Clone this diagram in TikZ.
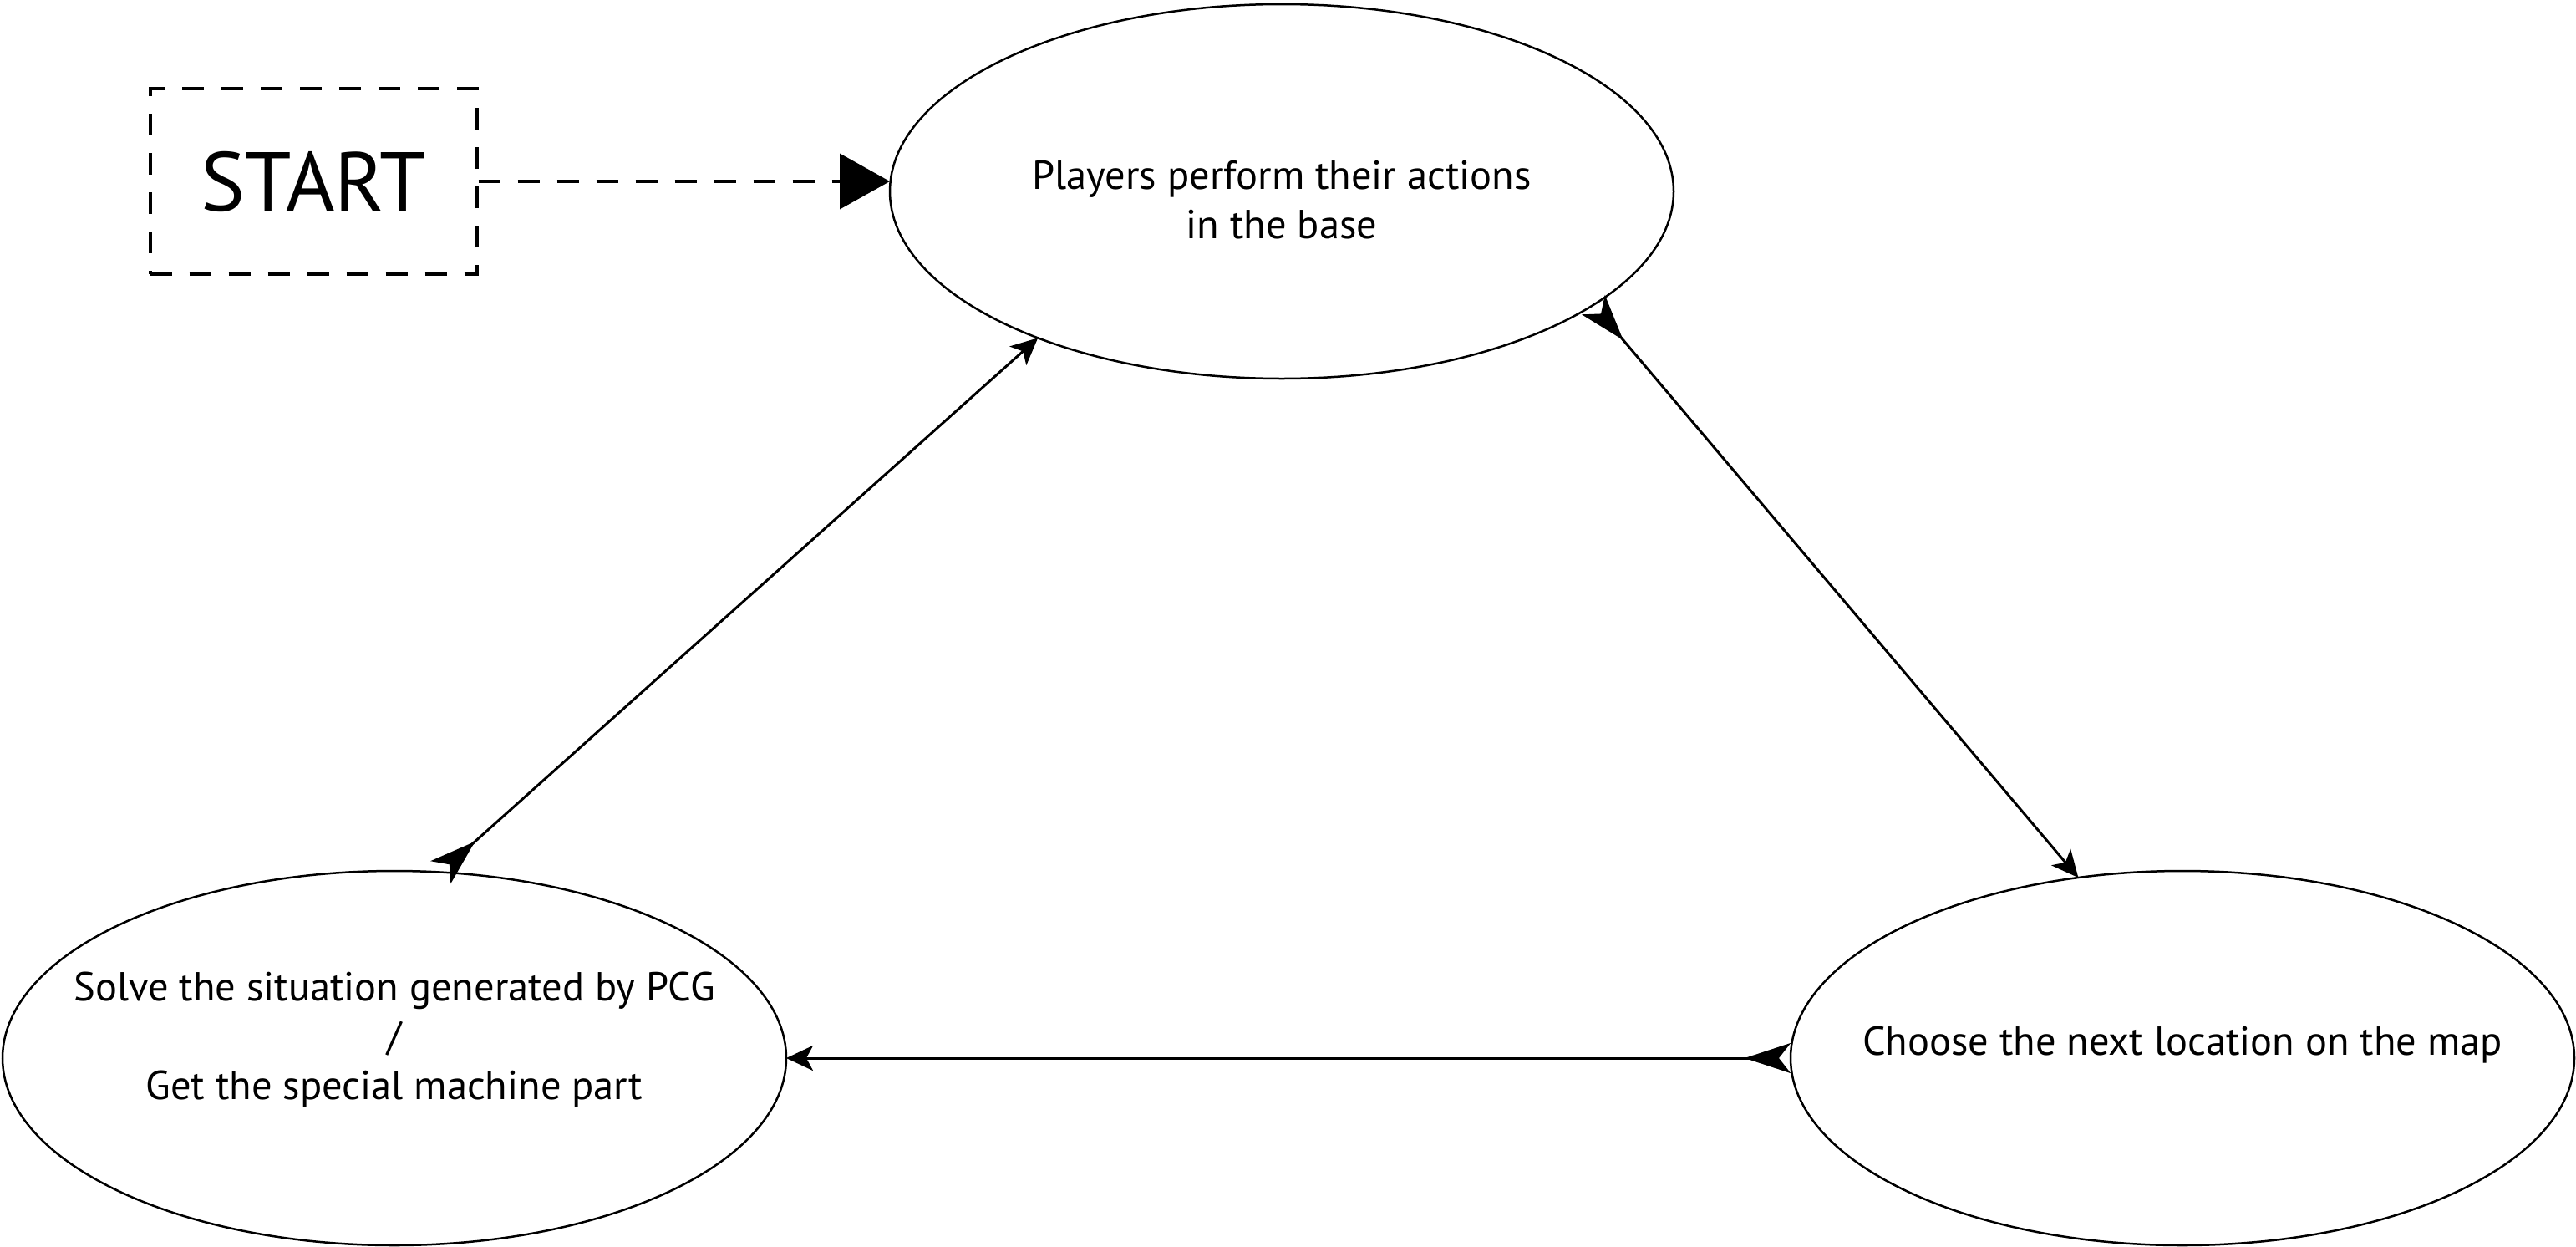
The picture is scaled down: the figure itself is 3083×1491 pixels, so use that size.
\documentclass[tikz,border=0pt]{standalone}
\usepackage{fontspec}
\setmainfont{PT Sans}
\usetikzlibrary{shapes.geometric,arrows.meta}
\begin{document}
\begin{tikzpicture}[x=1pt,y=-1pt,
  state/.style={ellipse,draw,line width=2.5pt,inner sep=0pt,outer sep=0pt,
    minimum width=938pt,minimum height=448pt},
  txt/.style={align=center,inner sep=0pt,font=\fontsize{48.5}{59}\selectfont},
  conn/.style={line width=3pt,{Stealth[reversed,length=55pt,width=36pt,inset=14pt]}-{Stealth[length=32pt,width=30pt,inset=8pt]}},
  dashline/.style={line width=4pt,dash pattern=on 26pt off 21pt}
]
\useasboundingbox (0,0) rectangle (3083,1491);
\node[draw,dashline,minimum width=391pt,minimum height=222pt,inner sep=0pt,
  font=\fontsize{100}{110}\selectfont] (start) at (375,217) {START};
\node[state] (top) at (1534,229) {};
\node[state] (left) at (472,1266) {};
\node[state] (right) at (2612,1266) {};
\node[txt] (toptext) at ([yshift=-10pt]top.center) {Players perform their actions\\in the base};
\node[txt] (lefttext) at ([yshift=22pt]left.center) {Solve the situation generated by PCG\\/\\Get the special machine part};
\node[txt] (righttext) at ([yshift=16pt]right.center) {Choose the next location on the map};
\draw[dashline,-{Triangle[length=60pt,width=66pt]}] (start.east) -- (top.west |- start.east);
\draw[conn] (top.-20.5) -- (right.120.8);
\draw[conn] (right.west) -- (left.east);
\draw[conn] (left.76.5) -- (top.-149.7);
\end{tikzpicture}
\end{document}
